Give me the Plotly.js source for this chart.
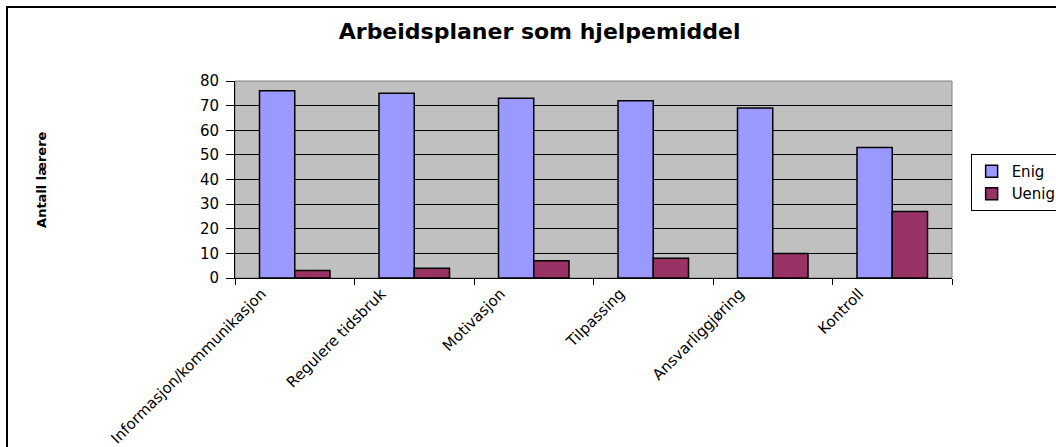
<!DOCTYPE html>
<html>
<head>
<meta charset="utf-8">
<script src="https://cdn.plot.ly/plotly-3.0.1.min.js"></script>
<style>
  html, body { margin: 0; padding: 0; background: #fff; overflow: hidden; }
  #chart { position: absolute; left: 0; top: 0; width: 1056px; height: 447px; }
  #frame { position: absolute; left: 6px; top: 6px; width: 1200px; height: 600px;
           border-left: 2px solid #000; border-top: 2px solid #000; pointer-events: none; }
</style>
</head>
<body>
<div id="chart"></div>
<div id="frame"></div>
<script>
const categories = ["Informasjon/kommunikasjon", "Regulere tidsbruk", "Motivasjon", "Tilpassing", "Ansvarliggjøring", "Kontroll"];
const enig = [76, 75, 73, 72, 69, 53];
const uenig = [3, 4, 7, 8, 10, 27];
const seriesNames = ["Enig", "Uenig"];
const yTicks = [0, 10, 20, 30, 40, 50, 60, 70, 80];

const FONT = "DejaVu Sans, Arial, sans-serif";

const traces = [
  { type: "bar", name: seriesNames[0], x: categories, y: enig,
    marker: { color: "#9999ff", line: { color: "#000", width: 1.5 } }, hoverinfo: "skip" },
  { type: "bar", name: seriesNames[1], x: categories, y: uenig,
    marker: { color: "#993366", line: { color: "#000", width: 1.5 } }, hoverinfo: "skip" }
];

const layout = {
  width: 1056, height: 447,
  margin: { l: 235, r: 104, t: 81, b: 169, pad: 0, autoexpand: false },
  paper_bgcolor: "#ffffff",
  plot_bgcolor: "#c0c0c0",
  barmode: "group",
  bargap: 0.41,
  bargroupgap: 0,
  showlegend: true,
  title: {
    text: "<b>Arbeidsplaner som hjelpemiddel</b>",
    font: { family: FONT, size: 22, color: "#000" },
    xref: "container", x: 0.511, xanchor: "center",
    yref: "container", y: 0.93, yanchor: "middle"
  },
  xaxis: {
    type: "category",
    tickangle: -45,
    tickson: "boundaries",
    ticks: "outside", ticklen: 6, tickcolor: "#000", tickwidth: 1,
    ticklabelshift: -33,
    showline: true, linecolor: "#000", linewidth: 1,
    showgrid: false, zeroline: false,
    tickfont: { family: FONT, size: 15, color: "#000" },
    automargin: false
  },
  yaxis: {
    range: [0, 80],
    tickvals: yTicks,
    ticks: "outside", ticklen: 8, tickcolor: "#000", tickwidth: 1,
    ticklabelstandoff: 4,
    showline: true, linecolor: "#000", linewidth: 1,
    showgrid: true, gridcolor: "#000", gridwidth: 1,
    zeroline: false,
    tickfont: { family: FONT, size: 15, color: "#000" },
    automargin: false
  },
  legend: {
    x: 1.026, xanchor: "left", y: 0.63, yanchor: "top",
    bordercolor: "#000", borderwidth: 1, bgcolor: "#fff",
    font: { family: FONT, size: 15, color: "#000" },
    tracegroupgap: 0, itemwidth: 30
  },
  shapes: [
    { type: "rect", xref: "paper", yref: "paper", x0: 0, x1: 1, y0: 0, y1: 1,
      line: { color: "#808080", width: 1 }, layer: "below" }
  ],
  annotations: [
    { text: "<b>Antall lærere</b>", xref: "paper", yref: "paper",
      x: -0.27, y: 0.5, xanchor: "center", yanchor: "middle", textangle: -90,
      showarrow: false, font: { family: FONT, size: 13, color: "#000" } }
  ]
};

Plotly.newPlot("chart", traces, layout, { staticPlot: true, displayModeBar: false });
</script>
</body>
</html>
